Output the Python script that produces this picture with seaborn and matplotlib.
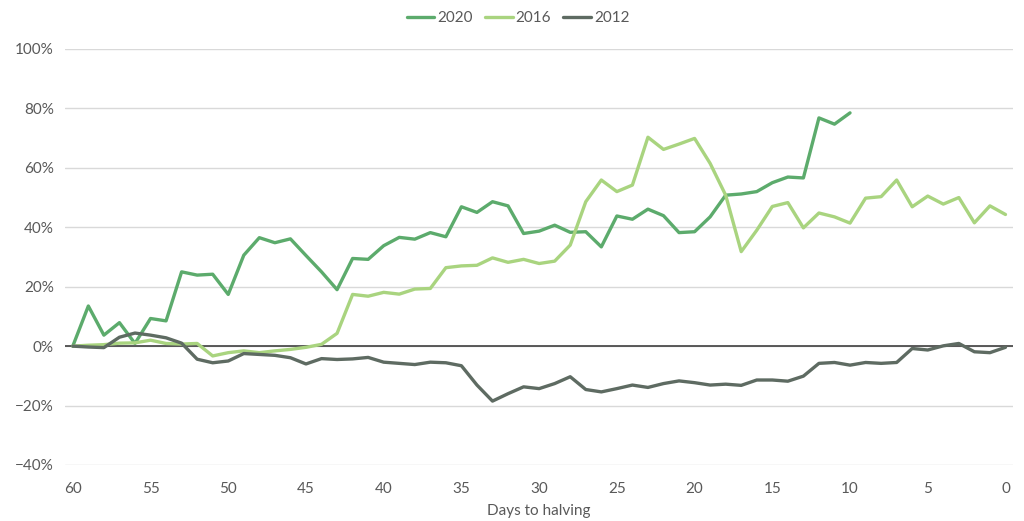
import pandas as pd
import matplotlib.pyplot as plt
import seaborn as sns
from matplotlib.ticker import PercentFormatter

days_all = list(range(60, -1, -1))
days_2020 = list(range(60, 9, -1))

ret_2020 = [0, 13.5, 3.7, 7.9, 0.9, 9.3, 8.5, 25, 23.9, 24.2,
            17.4, 30.6, 36.5, 34.8, 36.1, 30.5, 25, 19, 29.5, 29.2,
            33.8, 36.6, 36, 38.2, 36.8, 46.9, 45, 48.6, 47.2, 37.9,
            38.7, 40.7, 38.3, 38.5, 33.4, 43.8, 42.7, 46.1, 43.9, 38.2,
            38.5, 43.5, 50.8, 51.2, 52, 55, 56.9, 56.6, 76.8, 74.7,
            78.5]

ret_2016 = [0, 0.3, 0.5, 1, 1.1, 2, 0.9, 0.7, 0.9, -3.3,
            -2.2, -1.6, -2.2, -1.6, -1.1, -0.4, 0.6, 4.3, 17.4, 16.8,
            18.1, 17.5, 19.2, 19.4, 26.4, 27, 27.2, 29.7, 28.2, 29.2,
            27.8, 28.6, 34, 48.6, 55.9, 52, 54.2, 70.3, 66.2, 68,
            69.9, 61.5, 50.8, 31.8, 39, 47, 48.3, 39.8, 44.8, 43.5,
            41.4, 49.8, 50.3, 55.9, 46.9, 50.5, 47.8, 50, 41.5, 47.2,
            44.3]

ret_2012 = [0, -0.3, -0.5, 3, 4.4, 3.7, 2.8, 1, -4.4, -5.6,
            -5, -2.5, -2.8, -3.1, -3.9, -6, -4.2, -4.5, -4.3, -3.8,
            -5.4, -5.8, -6.2, -5.4, -5.6, -6.6, -13.1, -18.5, -16, -13.7,
            -14.3, -12.6, -10.3, -14.6, -15.4, -14.3, -13.1, -13.9, -12.6, -11.7,
            -12.3, -13.1, -12.8, -13.2, -11.4, -11.4, -11.8, -10.1, -5.8, -5.5,
            -6.4, -5.5, -5.8, -5.5, -0.8, -1.3, 0.1, 0.9, -1.9, -2.2,
            -0.4]

years = ["2020", "2016", "2012"]
colors = {"2020": "#5cab6c", "2016": "#a9d47f", "2012": "#5e6b62"}

df = pd.concat([
    pd.DataFrame({"day": days_2020, "ret": ret_2020, "year": "2020"}),
    pd.DataFrame({"day": days_all, "ret": ret_2016, "year": "2016"}),
    pd.DataFrame({"day": days_all, "ret": ret_2012, "year": "2012"}),
])

sns.set_theme(style="white")
plt.rcParams["font.family"] = ["Lato", "DejaVu Sans"]

fig = plt.figure(figsize=(10.24, 5.21), dpi=100)
ax = fig.add_axes([0.0635, 0.1075, 0.926, 0.7985])

ax.set_yticks(range(-40, 101, 20))
ax.yaxis.grid(True, color="#d9d9d9", linewidth=1)
ax.set_axisbelow(True)
ax.axhline(0, color="#404040", linewidth=1.2, zorder=1)

sns.lineplot(data=df, x="day", y="ret", hue="year", hue_order=years,
             palette=colors, linewidth=2.4, ax=ax, legend=True, zorder=3)

ax.set_xlim(60.5, -0.5)
ax.set_ylim(-40, 100)
ax.set_xticks(range(60, -1, -5))
ax.yaxis.set_major_formatter(PercentFormatter(decimals=0))
for s in ax.spines.values():
    s.set_visible(False)
ax.tick_params(axis="both", length=0, labelsize=11, labelcolor="#595959")
ax.tick_params(axis="x", pad=12)
ax.tick_params(axis="y", pad=8)
ax.set_xlabel("Days to halving", fontsize=11, color="#595959", labelpad=6)
ax.set_ylabel("")

handles, labels = ax.get_legend_handles_labels()
ax.legend(handles, labels, loc="upper center", bbox_to_anchor=(0.506, 1.005),
          bbox_transform=fig.transFigure, ncol=3, frameon=False, fontsize=11,
          labelcolor="#595959", handlelength=1.8, columnspacing=0.8,
          handletextpad=0.2)

fig.savefig("out.png", dpi=100)
